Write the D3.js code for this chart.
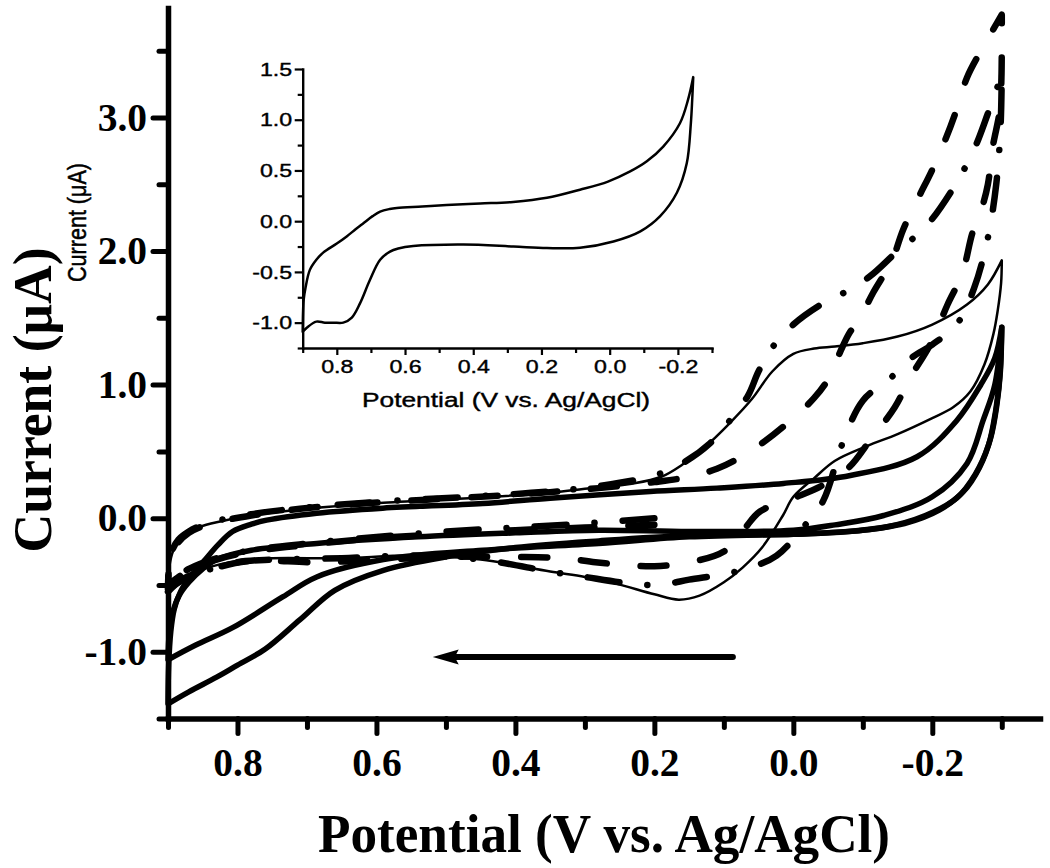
<!DOCTYPE html>
<html><head><meta charset="utf-8">
<script src="https://cdn.jsdelivr.net/npm/d3@7"></script>
<style>body{margin:0;background:#fff}</style>
</head><body>
<script>
// ---------- tick data ----------
const xMajorTicks = [0.8, 0.6, 0.4, 0.2, 0.0, -0.2];
const xMajorLabels = ["0.8", "0.6", "0.4", "0.2", "0.0", "-0.2"];
const xMinorTicks = [0.9, 0.7, 0.5, 0.3, 0.1, -0.1, -0.3];
const yMajorTicks = [-1, 0, 1, 2, 3];
const yMajorLabels = ["-1.0", "0.0", "1.0", "2.0", "3.0"];
const yMinorTicks = [-1.5, -0.5, 0.5, 1.5, 2.5, 3.5];
const insetYTicks = [-1, -0.5, 0, 0.5, 1, 1.5];
const insetYLabels = ["-1.0", "-0.5", "0.0", "0.5", "1.0", "1.5"];
const insetYMinor = [-1.25, -0.75, -0.25, 0.25, 0.75, 1.25];

// ---------- inset CV (potential V, current uA) ----------
const insetUp = [[0.9,-1.09],[0.899,-0.9],[0.897,-0.77],[0.892,-0.66],[0.879,-0.48],[0.86,-0.38],[0.84,-0.31],[0.8,-0.22],[0.771,-0.15],[0.745,-0.08],[0.722,-0.02],[0.695,0.05],[0.673,0.095],[0.645,0.12],[0.624,0.13],[0.55,0.145],[0.478,0.16],[0.38,0.175],[0.283,0.19],[0.184,0.23],[0.087,0.31],[0.005,0.39],[-0.06,0.49],[-0.109,0.59],[-0.157,0.735],[-0.206,0.965],[-0.23,1.2],[-0.245,1.42]];
const insetDown = [[-0.245,1.42],[-0.242,1.2],[-0.238,0.965],[-0.226,0.57],[-0.197,0.28],[-0.148,0.05],[-0.09,-0.1],[-0.011,-0.2],[0.087,-0.262],[0.184,-0.265],[0.282,-0.25],[0.429,-0.23],[0.576,-0.245],[0.62,-0.27],[0.644,-0.3],[0.673,-0.38],[0.703,-0.58],[0.732,-0.81],[0.756,-0.95],[0.781,-1.0],[0.81,-1.0],[0.835,-1.0],[0.86,-0.99],[0.888,-1.05],[0.9,-1.09]];

// ---------- main CVs ----------
const thinUp = [[0.9,-0.5],[0.898,-0.36],[0.893,-0.25],[0.885,-0.17],[0.87,-0.1],[0.855,-0.065],[0.83,-0.03],[0.78,0.02],[0.71,0.065],[0.59,0.115],[0.45,0.155],[0.35,0.19],[0.3,0.22],[0.23,0.26],[0.19,0.31],[0.16,0.4],[0.13,0.52],[0.09,0.72],[0.06,0.89],[0.03,1.1],[0.0,1.23],[-0.03,1.27],[-0.06,1.285],[-0.1,1.31],[-0.15,1.36],[-0.2,1.45],[-0.25,1.6],[-0.28,1.75],[-0.3,1.93]];
const thinDown = [[-0.3,1.93],[-0.299,1.76],[-0.294,1.55],[-0.288,1.38],[-0.275,1.15],[-0.255,0.95],[-0.23,0.83],[-0.2,0.75],[-0.15,0.63],[-0.106,0.54],[-0.06,0.43],[-0.03,0.3],[0.0,0.16],[0.015,0.02],[0.045,-0.22],[0.073,-0.37],[0.1,-0.48],[0.135,-0.58],[0.165,-0.61],[0.2,-0.57],[0.255,-0.49],[0.3,-0.44],[0.35,-0.4],[0.45,-0.31],[0.55,-0.28],[0.65,-0.3],[0.75,-0.3],[0.8,-0.32],[0.85,-0.38],[0.88,-0.44],[0.9,-0.5]];

const dashStart = [[0.2,-0.05],[0.3,-0.07],[0.4,-0.09],[0.5,-0.12],[0.6,-0.15],[0.7,-0.2],[0.78,-0.25],[0.83,-0.31],[0.87,-0.39],[0.9,-0.5]];
const dashUp = [[0.9,-0.5],[0.898,-0.35],[0.893,-0.25],[0.885,-0.18],[0.87,-0.11],[0.855,-0.07],[0.83,-0.03],[0.78,0.02],[0.71,0.07],[0.59,0.12],[0.45,0.16],[0.35,0.195],[0.28,0.225],[0.2,0.27],[0.15,0.31],[0.11,0.37],[0.075,0.46],[0.04,0.58],[0.0,0.75],[-0.03,0.9],[-0.05,1.04],[-0.067,1.24],[-0.08,1.38],[-0.096,1.5],[-0.115,1.69],[-0.142,1.93],[-0.158,2.16],[-0.18,2.4],[-0.2,2.61],[-0.22,2.85],[-0.235,3.06],[-0.25,3.3],[-0.27,3.5],[-0.29,3.68],[-0.3,3.77]];
const dashDown = [[-0.3,3.77],[-0.2995,3.3],[-0.297,3.05],[-0.287,2.78],[-0.28,2.5],[-0.27,2.3],[-0.258,2.14],[-0.243,1.83],[-0.222,1.6],[-0.197,1.3],[-0.168,1.05],[-0.146,0.83],[-0.11,0.58],[-0.08,0.38],[-0.04,0.24],[0.0,0.15],[0.048,0.05],[0.072,-0.09],[0.1,-0.25],[0.15,-0.33],[0.2,-0.36],[0.24,-0.35],[0.285,-0.33],[0.33,-0.3],[0.4,-0.29],[0.5,-0.29],[0.59,-0.31],[0.686,-0.33],[0.78,-0.32],[0.83,-0.37],[0.87,-0.44],[0.9,-0.53]];

const ddStart = [[0.2,0.0],[0.3,-0.04],[0.4,-0.07],[0.5,-0.1],[0.6,-0.14],[0.7,-0.19],[0.78,-0.24],[0.83,-0.3],[0.87,-0.38],[0.9,-0.48]];
const ddUp = [[0.9,-0.48],[0.898,-0.33],[0.893,-0.23],[0.885,-0.16],[0.87,-0.1],[0.855,-0.06],[0.83,-0.02],[0.78,0.03],[0.71,0.075],[0.59,0.125],[0.45,0.165],[0.35,0.2],[0.28,0.24],[0.2,0.32],[0.16,0.41],[0.12,0.56],[0.09,0.74],[0.065,0.92],[0.05,1.1],[0.03,1.28],[0.0,1.45],[-0.04,1.6],[-0.07,1.68],[-0.11,1.81],[-0.15,2.0],[-0.19,2.18],[-0.23,2.47],[-0.26,2.76],[-0.28,3.03],[-0.3,3.32]];
const ddDown = [[-0.3,3.32],[-0.298,2.9],[-0.292,2.5],[-0.28,2.1],[-0.26,1.72],[-0.235,1.45],[-0.2,1.3],[-0.17,1.2],[-0.14,1.05],[-0.1,0.88],[-0.07,0.55],[-0.043,0.13],[-0.014,-0.07],[0.024,-0.28],[0.062,-0.37],[0.1,-0.42],[0.15,-0.46],[0.18,-0.49],[0.21,-0.5],[0.25,-0.48],[0.3,-0.44],[0.35,-0.4],[0.45,-0.31],[0.55,-0.28],[0.65,-0.3],[0.75,-0.31],[0.8,-0.33],[0.85,-0.4],[0.88,-0.46],[0.9,-0.55]];

const t1Down = [[-0.3,1.43],[-0.298,1.1],[-0.293,0.85],[-0.284,0.6],[-0.268,0.38],[-0.245,0.2],[-0.21,0.06],[-0.16,-0.04],[-0.08,-0.1],[0.0,-0.12],[0.15,-0.13],[0.28,-0.17],[0.4,-0.22],[0.5,-0.29],[0.59,-0.39],[0.66,-0.54],[0.71,-0.76],[0.76,-0.98],[0.8,-1.1],[0.83,-1.19],[0.87,-1.3],[0.9,-1.39]];
const t1Up = [[0.9,-1.39],[0.899,-1.1],[0.896,-0.85],[0.891,-0.68],[0.882,-0.55],[0.868,-0.44],[0.848,-0.32],[0.828,-0.2],[0.807,-0.1],[0.78,-0.045],[0.758,-0.015],[0.686,0.037],[0.591,0.075],[0.447,0.11],[0.35,0.15],[0.206,0.2],[0.11,0.225],[0.014,0.26],[-0.082,0.32],[-0.178,0.46],[-0.235,0.73],[-0.27,1.0],[-0.29,1.2],[-0.3,1.43]];
const t2Down = [[-0.3,1.43],[-0.297,1.05],[-0.291,0.8],[-0.281,0.55],[-0.262,0.33],[-0.235,0.15],[-0.19,0.02],[-0.13,-0.07],[-0.05,-0.11],[0.0,-0.12],[0.15,-0.14],[0.28,-0.19],[0.447,-0.24],[0.59,-0.31],[0.686,-0.44],[0.735,-0.59],[0.807,-0.82],[0.86,-0.95],[0.9,-1.06]];
const t2Up = [[0.9,-1.06],[0.898,-0.85],[0.893,-0.7],[0.884,-0.58],[0.87,-0.48],[0.85,-0.38],[0.83,-0.31],[0.78,-0.24],[0.686,-0.19],[0.54,-0.14],[0.4,-0.11],[0.28,-0.09],[0.15,-0.1],[0.0,-0.09],[-0.06,-0.05],[-0.13,0.02],[-0.2,0.16],[-0.25,0.41],[-0.273,0.73],[-0.29,1.0],[-0.3,1.43]];

const arrowFrom = [0.087, -1.04];
const arrowTo = [0.519, -1.04];

// ---------- drawing ----------
const W = 1050, H = 868;
const SERIF = "'Liberation Serif','Times New Roman',Times,serif";
const SANS = "'Liberation Sans',Arial,Helvetica,sans-serif";
const svg = d3.select("body").append("svg").attr("width", W).attr("height", H);

const x = d3.scaleLinear().domain([0.9, -0.355]).range([168, 1040]);
const y = d3.scaleLinear().domain([-1.5, 3.82]).range([718.5, 8]);

function joined(branches, line) {
  return branches.map((b, i) => { const s = line(b); return i === 0 ? s : "L" + s.slice(1); }).join("");
}
function draw(scaleX, scaleY, branches, width, dash) {
  const line = d3.line().x(d => scaleX(d[0])).y(d => scaleY(d[1])).curve(d3.curveCatmullRom.alpha(0.5));
  const p = svg.append("path").attr("d", joined(branches, line))
    .attr("fill", "none").attr("stroke", "#000").attr("stroke-width", width)
    .attr("stroke-linejoin", "round").attr("stroke-linecap", "round");
  if (dash) p.attr("stroke-dasharray", dash);
  return p;
}

// main curves
draw(x, y, [t1Down, t1Up], 5.5);
draw(x, y, [t2Down, t2Up], 5.5);
draw(x, y, [dashStart, dashUp, dashDown], 6.5, "26 34");
draw(x, y, [ddStart, ddUp, ddDown], 6.5, "32 28 0.1 28");
draw(x, y, [thinUp, thinDown], 2.5);

// main axes
const gxMinor = svg.append("g").attr("transform", `translate(0,${y(-1.5)})`)
  .call(d3.axisBottom(x).tickValues(xMinorTicks).tickSize(9).tickSizeOuter(0).tickFormat(""));
gxMinor.select(".domain").remove();
const gx = svg.append("g").attr("transform", `translate(0,${y(-1.5)})`)
  .call(d3.axisBottom(x).tickValues(xMajorTicks).tickSize(15).tickSizeOuter(0).tickPadding(14)
    .tickFormat((d, i) => xMajorLabels[i]));
const gyMinor = svg.append("g").attr("transform", `translate(${x(0.9)},0)`)
  .call(d3.axisLeft(y).tickValues(yMinorTicks).tickSize(9).tickSizeOuter(0).tickFormat(""));
gyMinor.select(".domain").remove();
const gy = svg.append("g").attr("transform", `translate(${x(0.9)},0)`)
  .call(d3.axisLeft(y).tickValues(yMajorTicks).tickSize(15).tickSizeOuter(0).tickPadding(6)
    .tickFormat((d, i) => yMajorLabels[i]));
[gx, gy, gxMinor, gyMinor].forEach(g => {
  g.selectAll("g.tick line").style("stroke-width", "5px").style("stroke", "#000").style("stroke-linecap", "round");
  g.attr("font-size", 39.5).attr("font-family", SERIF).attr("font-weight", "bold");
  g.select(".domain").style("stroke-width", "5.5px").style("stroke-linecap", "square").style("stroke", "#000");
});

// main titles
svg.append("text").attr("x", (x(0.9) + x(-0.355)) / 2).attr("y", 852)
  .attr("text-anchor", "middle").attr("font-family", SERIF).attr("font-weight", "bold")
  .attr("font-size", 55).attr("textLength", 572).attr("lengthAdjust", "spacingAndGlyphs")
  .text("Potential (V vs. Ag/AgCl)");
svg.append("text").attr("transform", "translate(51,400) rotate(-90)")
  .attr("text-anchor", "middle").attr("font-family", SERIF).attr("font-weight", "bold")
  .attr("font-size", 54).attr("textLength", 305).attr("lengthAdjust", "spacingAndGlyphs")
  .text("Current (\u03BCA)");

// arrow
const ay = y(arrowFrom[1]);
svg.append("line").attr("x1", x(arrowFrom[0])).attr("x2", x(arrowTo[0]) + 18)
  .attr("y1", ay).attr("y2", ay).attr("stroke", "#000").attr("stroke-width", 6).attr("stroke-linecap", "round");
const tx = x(arrowTo[0]);
svg.append("path").attr("d", `M${tx},${ay}L${tx + 26},${ay - 7.5}L${tx + 22},${ay}L${tx + 26},${ay + 7.5}Z`).attr("fill", "#000");

// ---------- inset ----------
const xi = d3.scaleLinear().domain([0.9, -0.3]).range([302.7, 712]);
const yi = d3.scaleLinear().domain([-1.25, 1.5]).range([348, 69]);
draw(xi, yi, [insetUp, insetDown], 2.5);

const gixMinor = svg.append("g").attr("transform", `translate(0,${yi(-1.25)})`)
  .call(d3.axisBottom(xi).tickValues(xMinorTicks).tickSize(5).tickSizeOuter(0).tickFormat(""));
gixMinor.select(".domain").remove();
const gix = svg.append("g").attr("transform", `translate(0,${yi(-1.25)})`)
  .call(d3.axisBottom(xi).tickValues(xMajorTicks).tickSize(7).tickSizeOuter(0).tickPadding(5)
    .tickFormat((d, i) => xMajorLabels[i]));
const giyMinor = svg.append("g").attr("transform", `translate(${xi(0.9)},0)`)
  .call(d3.axisLeft(yi).tickValues(insetYMinor).tickSize(5).tickSizeOuter(0).tickFormat(""));
giyMinor.select(".domain").remove();
const giy = svg.append("g").attr("transform", `translate(${xi(0.9)},0)`)
  .call(d3.axisLeft(yi).tickValues(insetYTicks).tickSize(8).tickSizeOuter(0).tickPadding(2.5)
    .tickFormat((d, i) => insetYLabels[i]));
[gix, giy, gixMinor, giyMinor].forEach(g => {
  g.selectAll("g.tick line").style("stroke-width", "2.2px").style("stroke", "#000");
  g.attr("font-size", 19).attr("font-family", SANS);
  g.select(".domain").style("stroke-width", "2.4px").style("stroke-linecap", "square").style("stroke", "#000");
});
[gix, giy].forEach(g => g.selectAll(".tick text").each(function () {
  const w = this.getComputedTextLength();
  d3.select(this).attr("textLength", w * 1.22).attr("lengthAdjust", "spacingAndGlyphs")
    .attr("stroke", "#000").attr("stroke-width", 0.4);
}));
svg.append("text").attr("x", 506).attr("y", 407).attr("text-anchor", "middle")
  .attr("font-family", SANS).attr("font-size", 20).attr("textLength", 288)
  .attr("lengthAdjust", "spacingAndGlyphs").attr("stroke", "#000").attr("stroke-width", 0.4)
  .text("Potential (V vs. Ag/AgCl)");
svg.append("text").attr("transform", "translate(86,222.5) rotate(-90) scale(1,1.25)")
  .attr("text-anchor", "middle").attr("font-family", SANS).attr("font-size", 20)
  .attr("textLength", 119).attr("lengthAdjust", "spacingAndGlyphs")
  .attr("stroke", "#000").attr("stroke-width", 0.4).text("Current (\u03BCA)");
</script>
</body></html>
